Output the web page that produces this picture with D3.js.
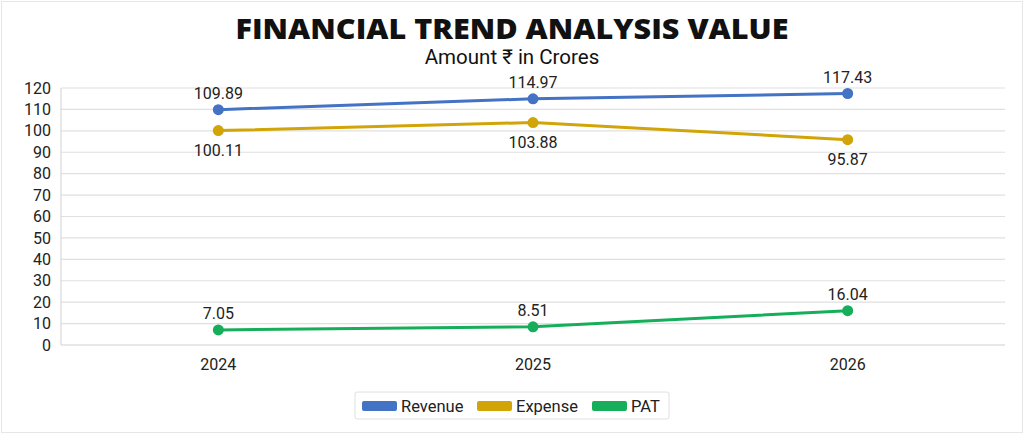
<!DOCTYPE html>
<html>
<head>
<meta charset="utf-8">
<script src="https://cdn.jsdelivr.net/npm/d3@7"></script>
<style>
  body { margin: 0; background: #fff; }
  text { font-family: Roboto, "Open Sans", sans-serif; }
</style>
</head>
<body>
<div id="chart"></div>
<script>
// DATA
const years = ["2024", "2025", "2026"];
const revenue = [109.89, 114.97, 117.43];
const expense = [100.11, 103.88, 95.87];
const pat = [7.05, 8.51, 16.04];
const yTicks = [0, 10, 20, 30, 40, 50, 60, 70, 80, 90, 100, 110, 120];

const series = [
    { name: "Revenue", values: revenue, color: "#4472C4", labelPos: "above" },
    { name: "Expense", values: expense, color: "#D1A408", labelPos: "below" },
    { name: "PAT", values: pat, color: "#16AE5A", labelPos: "above" }
];

const width = 1024, height = 434;
const margin = { top: 88, right: 19, bottom: 89, left: 61 };

const svg = d3.select("#chart")
    .append("svg")
    .attr("width", width)
    .attr("height", height);

// FRAME
svg.append("rect")
    .attr("x", 1.5).attr("y", 1.5)
    .attr("width", width - 3).attr("height", height - 3)
    .attr("fill", "#fff")
    .attr("stroke", "#e6e6e6");

// TITLES
svg.append("text")
    .attr("x", width / 2).attr("y", 39)
    .attr("text-anchor", "middle")
    .attr("font-size", "29px")
    .attr("font-weight", 800)
    .attr("textLength", 553)
    .attr("lengthAdjust", "spacingAndGlyphs")
    .style("font-family", "'Open Sans', sans-serif")
    .attr("fill", "#111")
    .text("FINANCIAL TREND ANALYSIS VALUE");

svg.append("text")
    .attr("x", width / 2).attr("y", 64)
    .attr("text-anchor", "middle")
    .attr("font-size", "20.5px")
    .attr("fill", "#111")
    .text("Amount ₹ in Crores");

// SCALES
const x = d3.scaleBand()
    .domain(years)
    .range([margin.left, width - margin.right]);

const y = d3.scaleLinear()
    .domain([0, 120])
    .range([height - margin.bottom, margin.top]);

const cx = d => x(d) + x.bandwidth() / 2;

// GRID
svg.append("g")
    .selectAll("line")
    .data(yTicks)
    .enter()
    .append("line")
    .attr("x1", margin.left)
    .attr("x2", width - margin.right)
    .attr("y1", d => y(d))
    .attr("y2", d => y(d))
    .attr("stroke", d => d === 0 ? "#d0d0d0" : "#e0e0e0")
    .attr("stroke-width", 1.2);

svg.append("line")
    .attr("x1", margin.left).attr("x2", margin.left)
    .attr("y1", y(120)).attr("y2", y(0))
    .attr("stroke", "#d9d9d9")
    .attr("stroke-width", 1.2);

// Y AXIS
const yAxis = svg.append("g")
    .attr("transform", `translate(${margin.left},0)`)
    .call(d3.axisLeft(y).tickValues(yTicks).tickSize(0).tickPadding(10));
yAxis.select(".domain").remove();
yAxis.selectAll("text")
    .attr("font-size", "16px")
    .attr("fill", "#222")
    .style("font-family", "Roboto, sans-serif");

// X AXIS
const xAxis = svg.append("g")
    .attr("transform", `translate(0,${height - margin.bottom})`)
    .call(d3.axisBottom(x).tickSize(0).tickPadding(14));
xAxis.select(".domain").remove();
xAxis.selectAll("text")
    .attr("font-size", "16px")
    .attr("fill", "#222")
    .style("font-family", "Roboto, sans-serif");

// LINES
const line = d3.line()
    .x((d, i) => cx(years[i]))
    .y(d => y(d));

series.forEach(s => {
    const g = svg.append("g");

    g.append("path")
        .datum(s.values)
        .attr("d", line)
        .attr("fill", "none")
        .attr("stroke", s.color)
        .attr("stroke-width", 3);

    g.selectAll("circle")
        .data(s.values)
        .enter()
        .append("circle")
        .attr("cx", (d, i) => cx(years[i]))
        .attr("cy", d => y(d))
        .attr("r", 5.5)
        .attr("fill", s.color);

    g.selectAll("text")
        .data(s.values)
        .enter()
        .append("text")
        .attr("x", (d, i) => cx(years[i]))
        .attr("y", d => s.labelPos === "above" ? y(d) - 11 : y(d) + 25)
        .attr("text-anchor", "middle")
        .attr("font-size", "16px")
        .attr("fill", "#222")
        .text(d => d.toFixed(2));
});

// LEGEND
const legend = svg.append("g");
legend.append("rect")
    .attr("x", 355).attr("y", 392)
    .attr("width", 314).attr("height", 27)
    .attr("fill", "#fff")
    .attr("stroke", "#e0e0e0")
    .attr("rx", 2);

const legendX = [362, 477, 592];
series.forEach((s, i) => {
    legend.append("rect")
        .attr("x", legendX[i]).attr("y", 401)
        .attr("width", 35).attr("height", 10)
        .attr("rx", 2)
        .attr("fill", s.color);
    legend.append("text")
        .attr("x", legendX[i] + 39).attr("y", 411.5)
        .attr("font-size", "16.5px")
        .attr("fill", "#222")
        .text(s.name);
});
</script>
</body>
</html>
